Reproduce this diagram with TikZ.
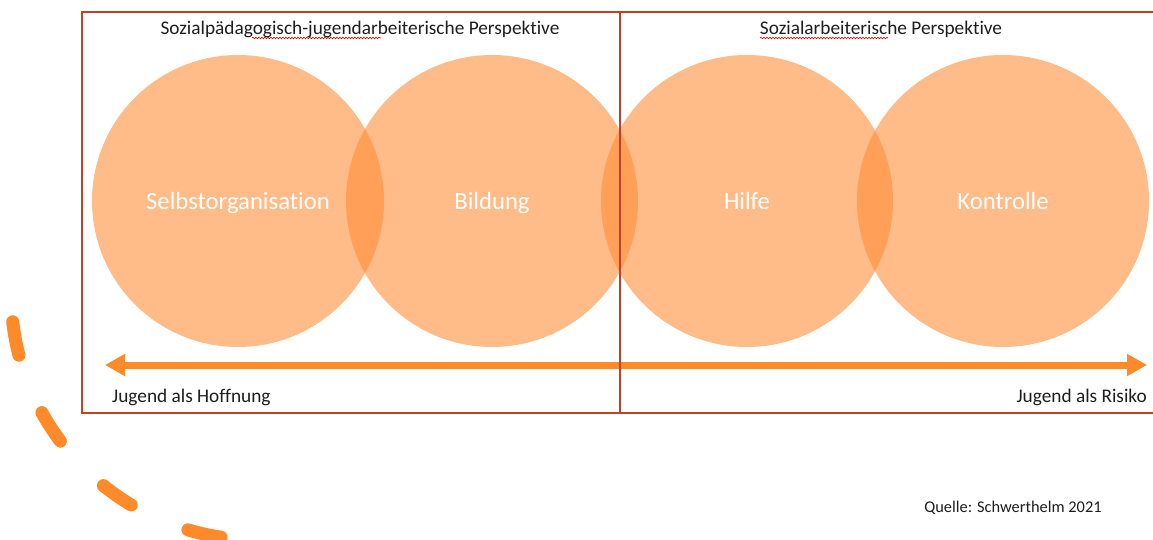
\documentclass[tikz,border=0pt]{standalone}
\usepackage{fontspec}
\setmainfont{Carlito}[Ligatures=NoCommon]
\usetikzlibrary{arrows.meta,decorations.pathmorphing}
\definecolor{circfill}{RGB}{255,141,56}
\definecolor{arroworange}{RGB}{255,138,42}
\definecolor{framered}{RGB}{190,66,40}
\definecolor{textgray}{RGB}{30,30,30}
\begin{document}
\begin{tikzpicture}[x=1pt,y=-1pt,
  bubble/.style={circle, minimum size=292pt, inner sep=0pt, fill=circfill, fill opacity=0.6, text opacity=1, text=white, text height=22pt, text depth=5pt, font=\fontsize{24.7}{28}\selectfont},
  titletext/.style={inner sep=0pt, text=textgray, font=\fontsize{19.3}{22}\selectfont},
  axislabel/.style={inner sep=0pt, text=textgray, font=\fontsize{19.3}{22}\selectfont},
  sourcetext/.style={inner sep=0pt, text=textgray, font=\fontsize{16.4}{19}\selectfont},
  framelines/.style={draw=framered, line width=2pt},
  axisarrow/.style={draw=arroworange, line width=7pt, {Triangle[length=20pt,width=21pt]}-{Triangle[length=20pt,width=21pt]}},
  dasharc/.style={draw=arroworange, line width=13pt, line cap=round, dash pattern=on 34pt off 62pt},
  spellmark/.style={draw=red!85!black, line width=0.6pt, decorate, decoration={snake, amplitude=0.8pt, segment length=3pt}}
]
\useasboundingbox (0,0) rectangle (1153,540);
\clip (0,0) rectangle (1153,540);

% circles
\node[bubble] (selbst) at (238,201) {Selbstorganisation};
\node[bubble] (bildung) at (492,201) {Bildung};
\node[bubble] (hilfe) at (747,201) {Hilfe};
\node[bubble] (kontrolle) at (1003,201) {Kontrolle};

% axis arrow
\coordinate (hoff) at (105,365);
\coordinate (risk) at (1147,365);
\draw[axisarrow] (hoff) -- (risk);

% frame
\coordinate (ftl) at (82,12);
\coordinate (fbl) at (82,413);
\coordinate (ftr) at (1170,12);
\coordinate (fbr) at (1170,413);
\coordinate (dtop) at (620,12);
\coordinate (dbot) at (620,413);
\draw[framelines] (ftr) -- (ftl) -- (fbl) -- (fbr);
\draw[framelines] (dtop) -- (dbot);

% titles
\node[titletext] (tleft) at (360,29) {Sozialpädagogisch-jugendarbeiterische Perspektive};
\node[titletext] (tright) at (881,29) {Sozialarbeiterische Perspektive};
\draw[spellmark] (252,38) -- (381,38);
\draw[spellmark] (760,38) -- (888,38);

% axis labels
\node[axislabel, anchor=west] (hoffnung) at (112,397) {Jugend als Hoffnung};
\node[axislabel, anchor=east] (risiko) at (1147,397) {Jugend als Risiko};

% source
\node[sourcetext] (quelle) at (1013,508) {Quelle: Schwerthelm 2021};

% dashed arc
\draw[dasharc] (258,293) ++(186.7:247pt) arc[start angle=186.7, end angle=262, radius=247pt];
\end{tikzpicture}
\end{document}
